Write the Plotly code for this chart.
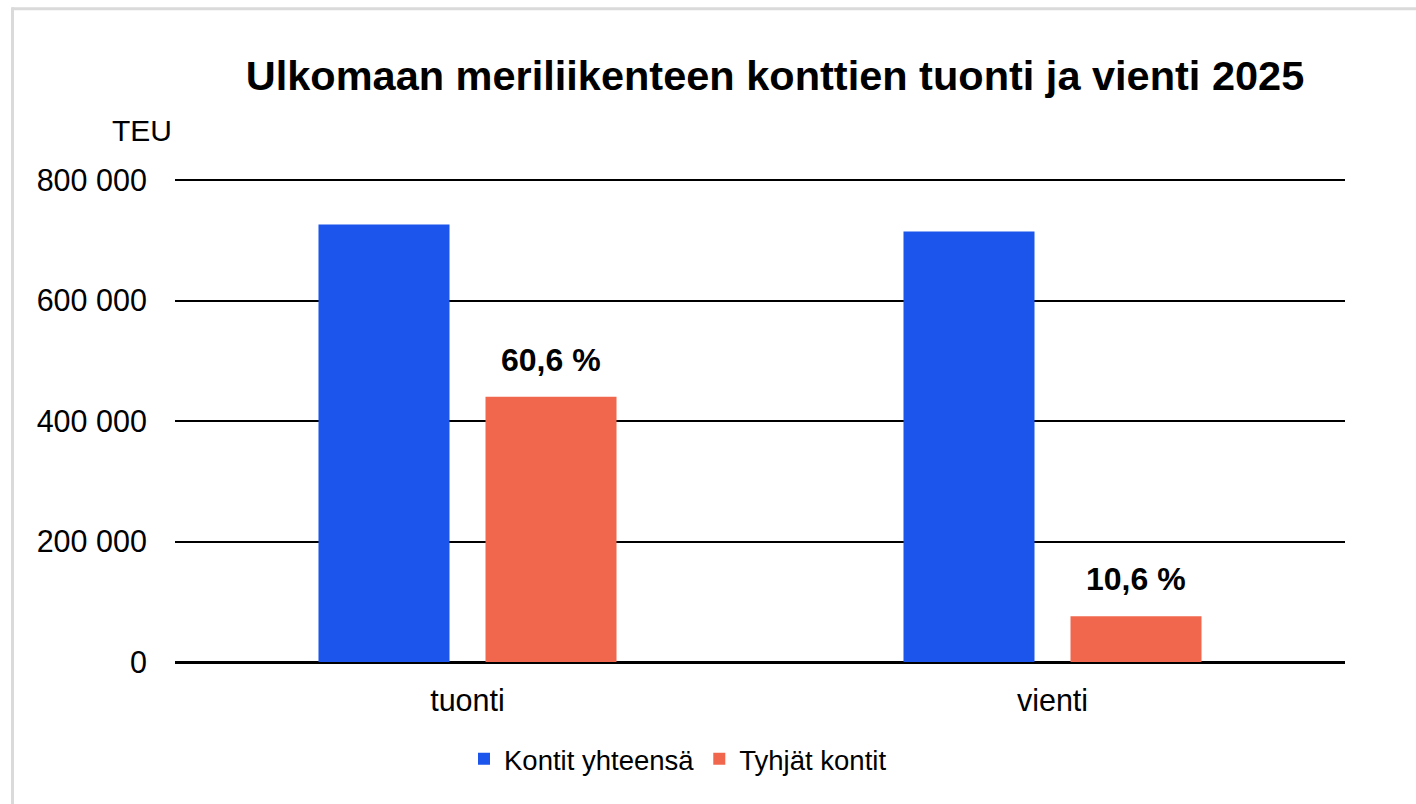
import plotly.graph_objects as go

categories = ["tuonti", "vienti"]
total_teu = [726500, 715000]
empty_teu = [440300, 75800]
pct_labels = ["60,6 %", "10,6 %"]
series_names = ["Kontit yhteensä", "Tyhjät kontit"]
y_tickvals = [0, 200000, 400000, 600000, 800000]
y_ticktext = ["0", "200 000", "400 000", "600 000", "800 000"]

BLUE = "#1B55EB"
ORANGE = "#F1674E"
FONT = "Liberation Sans, Arial, sans-serif"

# plot area in pixels: x 175..1345, y 180..662 (800 000 at y=180)
PX_L, PX_R, PX_B = 175, 1345, 662
PW = PX_R - PX_L
YMAX = 802000
PH = (PX_B - 180) * YMAX / 800000
PX_T = PX_B - PH


def px(xp):
    return (xp - PX_L) / PW


def py(yp):
    return (PX_B - yp) / PH


fig = go.Figure()
fig.add_trace(go.Bar(name=series_names[0], x=categories, y=total_teu,
                     marker=dict(color=BLUE, line=dict(width=0))))
fig.add_trace(go.Bar(name=series_names[1], x=categories, y=empty_teu,
                     marker=dict(color=ORANGE, line=dict(width=0))))

for cat, val, lab in zip(categories, empty_teu, pct_labels):
    fig.add_annotation(x=cat, y=val, xref="x", yref="y", text=lab,
                       showarrow=False, xshift=83, yshift=17, yanchor="bottom",
                       font=dict(family=FONT, size=32, color="black", weight="bold"))

fig.add_annotation(x=px(142), y=py(130), xref="paper", yref="paper", text="TEU",
                   showarrow=False, xanchor="center", yanchor="middle",
                   font=dict(family=FONT, size=30, color="black"))

# outer light-gray frame (top and left edges)
fig.add_shape(type="line", xref="paper", yref="paper",
              x0=px(12), x1=px(1420), y0=py(8.5), y1=py(8.5),
              line=dict(color="#DADADA", width=3))
fig.add_shape(type="line", xref="paper", yref="paper",
              x0=px(12.5), x1=px(12.5), y0=py(810), y1=py(7),
              line=dict(color="#DADADA", width=3))

fig.update_layout(
    width=1416, height=804,
    margin=dict(l=PX_L, r=1416 - PX_R, t=PX_T, b=804 - PX_B),
    paper_bgcolor="white", plot_bgcolor="white",
    font=dict(family=FONT, size=30, color="black"),
    title=dict(text="<b>Ulkomaan meriliikenteen konttien tuonti ja vienti 2025</b>",
               x=775 / 1416, xref="container", xanchor="center",
               y=1 - 75 / 804, yref="container", yanchor="middle",
               font=dict(family=FONT, size=41.5, color="black")),
    barmode="group", bargap=0.429, bargroupgap=0.2156,
    showlegend=True,
    legend=dict(orientation="h", x=px(678), xanchor="center",
                y=py(759), yanchor="middle",
                font=dict(family=FONT, size=27.5, color="black"),
                itemwidth=30, traceorder="normal"),
)
fig.update_yaxes(range=[0, YMAX], tickvals=y_tickvals, ticktext=y_ticktext,
                 showgrid=True, gridcolor="black", gridwidth=2,
                 zeroline=True, zerolinecolor="black", zerolinewidth=3,
                 showline=False, ticks="outside", ticklen=21,
                 tickcolor="rgba(0,0,0,0)",
                 tickfont=dict(family=FONT, size=30.5, color="black"))
fig.update_xaxes(showgrid=False, showline=False, ticks="outside", ticklen=11,
                 tickcolor="rgba(0,0,0,0)",
                 tickfont=dict(family=FONT, size=30.5, color="black"))

fig.write_html("out.html", config={"displayModeBar": False},
               post_script="document.body.style.margin='0px';")
